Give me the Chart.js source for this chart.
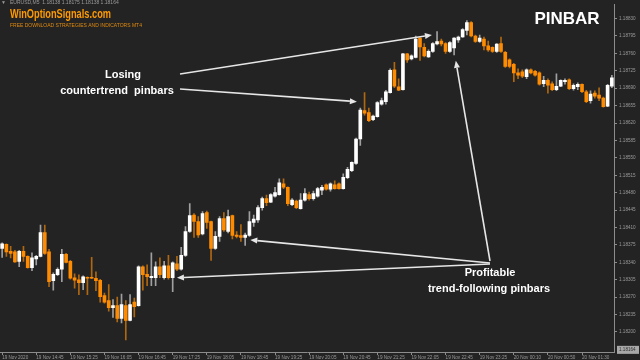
<!DOCTYPE html>
<html><head><meta charset="utf-8">
<script src="https://cdn.jsdelivr.net/npm/chart.js@4.4.1/dist/chart.umd.min.js"></script>
<style>html,body{margin:0;padding:0;background:#232323;overflow:hidden}canvas{display:block}</style>
</head><body>
<canvas id="c" width="640" height="360"></canvas>
<script>
const timeLabels = ["19 Nov 2020","19 Nov 14:45","19 Nov 15:25","19 Nov 16:05","19 Nov 16:45","19 Nov 17:25","19 Nov 18:05","19 Nov 18:45","19 Nov 19:25","19 Nov 20:05","19 Nov 20:45","19 Nov 21:25","19 Nov 22:05","19 Nov 22:45","19 Nov 23:25","20 Nov 00:10","20 Nov 00:50","20 Nov 01:30"];
const priceTicks = [1.18830,1.18795,1.18760,1.18725,1.18690,1.18655,1.18620,1.18585,1.18550,1.18515,1.18480,1.18445,1.18410,1.18375,1.18340,1.18305,1.18270,1.18235,1.18200];
const currentPrice = 1.18164;
const headerText = "EURUSD,M5  1.18138 1.18175 1.18138 1.18164";

const openP = [1.18368,1.18376,1.18362,1.18361,1.18342,1.18362,1.18352,1.18329,1.18347,1.18352,
1.18400,1.18361,1.18303,1.18315,1.18326,1.18356,1.18342,1.18309,1.18305,1.18299,
1.18309,1.18309,1.18308,1.18304,1.18273,1.18263,1.18249,1.18253,1.18227,1.18253,
1.18223,1.18260,1.18253,1.18331,1.18316,1.18309,1.18309,1.18331,1.18309,1.18333,
1.18309,1.18337,1.18326,1.18354,1.18402,1.18435,1.18422,1.18397,1.18440,1.18422,
1.18368,1.18392,1.18428,1.18402,1.18434,1.18395,1.18394,1.18390,1.18394,1.18420,
1.18425,1.18450,1.18468,1.18461,1.18473,1.18476,1.18498,1.18491,1.18456,1.18463,
1.18448,1.18465,1.18476,1.18468,1.18473,1.18485,1.18496,1.18487,1.18496,1.18498,
1.18488,1.18510,1.18524,1.18539,1.18588,1.18645,1.18641,1.18627,1.18633,1.18658,
1.18663,1.18681,1.18727,1.18693,1.18687,1.18759,1.18749,1.18752,1.18791,1.18772,
1.18753,1.18764,1.18779,1.18785,1.18780,1.18764,1.18771,1.18787,1.18793,1.18806,
1.18822,1.18795,1.18784,1.18789,1.18775,1.18772,1.18764,1.18780,1.18762,1.18747,
1.18738,1.18721,1.18723,1.18713,1.18727,1.18724,1.18721,1.18699,1.18706,1.18699,
1.18687,1.18694,1.18703,1.18707,1.18689,1.18693,1.18698,1.18683,1.18665,1.18680,
1.18676,1.18670,1.18654,1.18694];
const highP = [1.18379,1.18377,1.18372,1.18364,1.18364,1.18372,1.18353,1.18359,1.18354,1.18415,
1.18415,1.18366,1.18319,1.18329,1.18366,1.18358,1.18344,1.18317,1.18315,1.18313,
1.18311,1.18350,1.18321,1.18306,1.18278,1.18295,1.18265,1.18270,1.18276,1.18263,
1.18275,1.18268,1.18333,1.18333,1.18335,1.18359,1.18341,1.18349,1.18342,1.18354,
1.18341,1.18352,1.18370,1.18412,1.18458,1.18438,1.18432,1.18442,1.18443,1.18423,
1.18402,1.18432,1.18440,1.18445,1.18435,1.18402,1.18416,1.18399,1.18442,1.18435,
1.18454,1.18471,1.18475,1.18478,1.18491,1.18508,1.18508,1.18492,1.18468,1.18465,
1.18478,1.18488,1.18481,1.18483,1.18491,1.18495,1.18498,1.18500,1.18504,1.18500,
1.18518,1.18531,1.18542,1.18590,1.18650,1.18681,1.18650,1.18636,1.18663,1.18670,
1.18686,1.18729,1.18742,1.18709,1.18760,1.18760,1.18757,1.18795,1.18792,1.18780,
1.18767,1.18782,1.18804,1.18789,1.18782,1.18784,1.18792,1.18795,1.18810,1.18826,
1.18824,1.18797,1.18797,1.18793,1.18785,1.18773,1.18780,1.18793,1.18764,1.18749,
1.18740,1.18729,1.18727,1.18729,1.18729,1.18726,1.18723,1.18714,1.18709,1.18703,
1.18719,1.18707,1.18709,1.18709,1.18699,1.18701,1.18699,1.18686,1.18685,1.18685,
1.18691,1.18672,1.18698,1.18716];
const lowP = [1.18350,1.18352,1.18349,1.18340,1.18331,1.18342,1.18328,1.18323,1.18335,1.18351,
1.18356,1.18291,1.18284,1.18313,1.18301,1.18339,1.18306,1.18288,1.18275,1.18285,
1.18275,1.18307,1.18283,1.18260,1.18258,1.18242,1.18229,1.18220,1.18218,1.18184,
1.18222,1.18230,1.18252,1.18284,1.18293,1.18293,1.18293,1.18309,1.18306,1.18306,
1.18281,1.18323,1.18324,1.18352,1.18400,1.18390,1.18390,1.18395,1.18408,1.18344,
1.18366,1.18382,1.18402,1.18399,1.18387,1.18389,1.18382,1.18374,1.18392,1.18412,
1.18420,1.18445,1.18454,1.18460,1.18471,1.18475,1.18488,1.18454,1.18454,1.18448,
1.18447,1.18463,1.18465,1.18465,1.18471,1.18476,1.18485,1.18483,1.18487,1.18487,
1.18487,1.18508,1.18522,1.18537,1.18575,1.18636,1.18623,1.18625,1.18632,1.18656,
1.18658,1.18680,1.18691,1.18685,1.18686,1.18742,1.18747,1.18751,1.18746,1.18753,
1.18752,1.18762,1.18777,1.18775,1.18760,1.18762,1.18757,1.18782,1.18792,1.18797,
1.18793,1.18782,1.18782,1.18767,1.18764,1.18762,1.18762,1.18762,1.18732,1.18731,
1.18703,1.18709,1.18711,1.18709,1.18719,1.18714,1.18696,1.18693,1.18680,1.18685,
1.18685,1.18693,1.18698,1.18687,1.18686,1.18687,1.18681,1.18661,1.18660,1.18670,
1.18665,1.18652,1.18653,1.18691];
const closeP = [1.18377,1.18361,1.18358,1.18341,1.18362,1.18352,1.18329,1.18349,1.18352,1.18400,
1.18358,1.18301,1.18316,1.18326,1.18356,1.18340,1.18308,1.18304,1.18299,1.18311,
1.18308,1.18308,1.18303,1.18271,1.18260,1.18249,1.18253,1.18227,1.18255,1.18223,
1.18255,1.18251,1.18331,1.18315,1.18311,1.18312,1.18331,1.18315,1.18333,1.18309,
1.18339,1.18326,1.18354,1.18402,1.18434,1.18422,1.18395,1.18438,1.18420,1.18368,
1.18392,1.18428,1.18405,1.18432,1.18394,1.18392,1.18390,1.18395,1.18422,1.18427,
1.18450,1.18468,1.18460,1.18476,1.18480,1.18500,1.18491,1.18458,1.18465,1.18450,
1.18465,1.18478,1.18468,1.18478,1.18488,1.18491,1.18487,1.18498,1.18488,1.18488,
1.18511,1.18527,1.18541,1.18588,1.18646,1.18640,1.18625,1.18634,1.18661,1.18665,
1.18683,1.18726,1.18694,1.18686,1.18759,1.18747,1.18755,1.18789,1.18773,1.18755,
1.18764,1.18780,1.18784,1.18779,1.18764,1.18782,1.18791,1.18793,1.18808,1.18822,
1.18795,1.18784,1.18791,1.18775,1.18767,1.18764,1.18779,1.18764,1.18734,1.18734,
1.18721,1.18716,1.18714,1.18727,1.18721,1.18716,1.18698,1.18706,1.18696,1.18687,
1.18694,1.18706,1.18706,1.18689,1.18696,1.18698,1.18683,1.18663,1.18678,1.18674,
1.18670,1.18653,1.18696,1.18711];

// annotation arrows: start (pixel) -> tip (candle index, price)
const arrowNotes = [
  {sx:180, sy:74, idx:100.8, price:1.18797},
  {sx:180, sy:89, idx:83.2, price:1.18663},
  {sx:490, sy:261, idx:106.4, price:1.18745},
  {sx:490, sy:263, idx:58.2, price:1.18385},
  {sx:490, sy:264, idx:41.0, price:1.18309}
];

const BULL = '#ffffff', BEAR = '#ff8c00', BULL_WICK = '#a0a0a0', BEAR_WICK = '#b06810';
const categories = openP.map((_, i) => (i % 8 === 0 ? timeLabels[i / 8] : ''));
const bodies = openP.map((o, i) => [o, closeP[i]]);
const wicks = lowP.map((l, i) => [l, highP[i]]);
const isBull = openP.map((o, i) => closeP[i] >= o);

const overlay = {
  id: 'overlay',
  afterDraw(chart) {
    const ctx = chart.ctx, xs = chart.scales.x, ys = chart.scales.y;
    ctx.save();
    // header
    ctx.fillStyle = '#9a9a9a';
    ctx.font = '5px "Liberation Sans"';
    ctx.textBaseline = 'middle';
    ctx.fillText('\u25BC', 1, 3);
    ctx.fillText(headerText, 10, 3);
    ctx.fillStyle = '#ff9a00';
    ctx.font = 'bold 12px "Liberation Sans"';
    ctx.fillText('WinOptionSignals.com', 10, 15, 101);
    ctx.fillStyle = '#e08a10';
    ctx.font = '5px "Liberation Sans"';
    ctx.fillText('FREE DOWNLOAD STRATEGIES AND INDICATORS MT4', 10, 26, 148);
    // titles
    ctx.fillStyle = '#ffffff';
    ctx.textAlign = 'center';
    ctx.font = 'bold 17px "Liberation Sans"';
    ctx.fillText('PINBAR', 567, 19);
    ctx.font = 'bold 11px "Liberation Sans"';
    ctx.fillText('Losing', 123, 75);
    ctx.fillText('countertrend  pinbars', 117, 91);
    ctx.fillText('Profitable', 490, 273);
    ctx.fillText('trend-following pinbars', 489, 289);
    // arrows
    ctx.strokeStyle = '#e6e6e6';
    ctx.fillStyle = '#e6e6e6';
    ctx.lineWidth = 1.6;
    arrowNotes.forEach(a => {
      const tx = xs.getPixelForValue(a.idx), ty = ys.getPixelForValue(a.price);
      const ang = Math.atan2(ty - a.sy, tx - a.sx);
      const len = 7, hw = 3;
      const bx = tx - len * Math.cos(ang), by = ty - len * Math.sin(ang);
      ctx.beginPath(); ctx.moveTo(a.sx, a.sy); ctx.lineTo(bx, by); ctx.stroke();
      ctx.beginPath();
      ctx.moveTo(tx, ty);
      ctx.lineTo(bx + hw * Math.sin(ang), by - hw * Math.cos(ang));
      ctx.lineTo(bx - hw * Math.sin(ang), by + hw * Math.cos(ang));
      ctx.closePath(); ctx.fill();
    });
    // current price box
    const py = ys.getPixelForValue(currentPrice);
    ctx.fillStyle = '#a8a8a8';
    ctx.fillRect(617, py - 4, 22, 8);
    ctx.fillStyle = '#303030';
    ctx.textAlign = 'left';
    ctx.font = '4.6px "Liberation Sans"';
    ctx.fillText(currentPrice.toFixed(5), 619, py);
    ctx.restore();
  }
};

new Chart(document.getElementById('c'), {
  type: 'bar',
  data: {
    labels: categories,
    datasets: [
      { data: bodies, backgroundColor: isBull.map(b => b ? BULL : BEAR), barThickness: 3, grouped: false, order: 0, minBarLength: 1, borderWidth: 0, borderSkipped: false },
      { data: wicks, backgroundColor: isBull.map(b => b ? BULL_WICK : BEAR_WICK), barThickness: 1, grouped: false, order: 1, borderWidth: 0, borderSkipped: false }
    ]
  },
  options: {
    responsive: false,
    animation: false,
    devicePixelRatio: 1,
    layout: { padding: 0 },
    plugins: { legend: { display: false }, tooltip: { enabled: false } },
    scales: {
      x: {
        type: 'category',
        offset: true,
        afterBuildTicks: s => { s.ticks = s.ticks.filter(t => t.value % 8 === 0); },
        afterFit: s => { s.height = 8; },
        grid: { drawOnChartArea: false, drawTicks: true, tickLength: 3, color: '#8c8c8c', offset: false },
        border: { display: true, color: '#8c8c8c', width: 1 },
        ticks: { autoSkip: false, maxRotation: 0, minRotation: 0, align: 'start', padding: 0, color: '#9a9a9a', font: { size: 4.6, family: 'Liberation Sans' } }
      },
      y: {
        position: 'right',
        min: 1.181597,
        max: 1.188578,
        afterBuildTicks: s => { s.ticks = priceTicks.map(v => ({ value: v })); },
        afterFit: s => { s.width = 26; },
        grid: { drawOnChartArea: false, drawTicks: true, tickLength: 3, color: '#8c8c8c' },
        border: { display: true, color: '#8c8c8c', width: 1 },
        ticks: { padding: 2, color: '#9a9a9a', font: { size: 4.6, family: 'Liberation Sans' }, callback: v => Number(v).toFixed(5) }
      }
    }
  },
  plugins: [overlay]
});
</script>
</body></html>
